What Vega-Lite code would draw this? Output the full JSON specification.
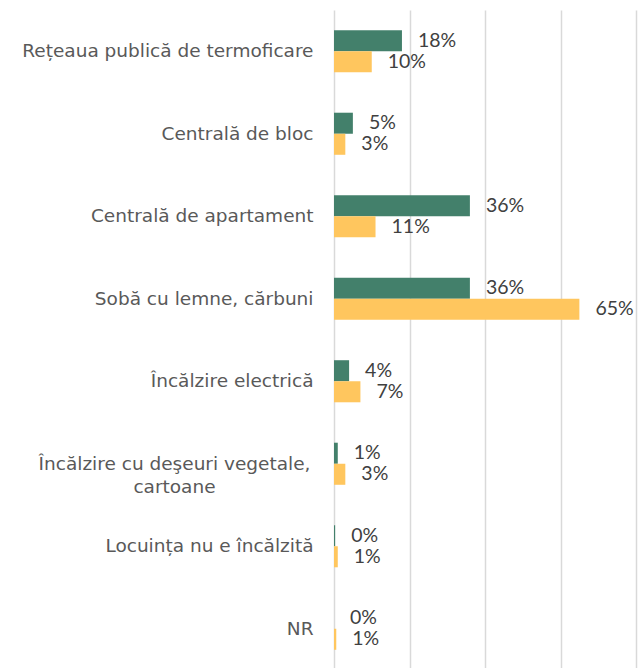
{
  "$schema": "https://vega.github.io/schema/vega-lite/v6.json",
  "width": 302,
  "height": 660,
  "autosize": {"type": "none"},
  "padding": {"left": 334, "top": 10, "right": 3, "bottom": 0},
  "background": "white",
  "config": {"view": {"stroke": null}},
  "data": {
    "values": [
      {"cat": "Rețeaua publică de termoficare", "serie": "Seria 1", "value": 18},
      {"cat": "Rețeaua publică de termoficare", "serie": "Seria 2", "value": 10},
      {"cat": "Centrală de bloc", "serie": "Seria 1", "value": 5},
      {"cat": "Centrală de bloc", "serie": "Seria 2", "value": 3},
      {"cat": "Centrală de apartament", "serie": "Seria 1", "value": 36},
      {"cat": "Centrală de apartament", "serie": "Seria 2", "value": 11},
      {"cat": "Sobă cu lemne, cărbuni", "serie": "Seria 1", "value": 36},
      {"cat": "Sobă cu lemne, cărbuni", "serie": "Seria 2", "value": 65},
      {"cat": "Încălzire electrică", "serie": "Seria 1", "value": 4},
      {"cat": "Încălzire electrică", "serie": "Seria 2", "value": 7},
      {"cat": "Încălzire cu deşeuri vegetale, cartoane", "serie": "Seria 1", "value": 1},
      {"cat": "Încălzire cu deşeuri vegetale, cartoane", "serie": "Seria 2", "value": 3},
      {"cat": "Locuința nu e încălzită", "serie": "Seria 1", "value": 0.3},
      {"cat": "Locuința nu e încălzită", "serie": "Seria 2", "value": 1},
      {"cat": "NR", "serie": "Seria 1", "value": 0},
      {"cat": "NR", "serie": "Seria 2", "value": 0.6}
    ]
  },
  "encoding": {
    "y": {
      "field": "cat", "type": "nominal", "sort": null,
      "scale": {"paddingInner": 0.49, "paddingOuter": 0.245},
      "axis": {
        "title": null, "domain": false, "ticks": false,
        "labelFont": "DejaVu Sans", "labelFontSize": 18.5, "labelColor": "#595959",
        "labelLimit": 400, "labelLineHeight": 23,
        "labelExpr": "datum.label == 'Încălzire cu deşeuri vegetale, cartoane' ? ['Încălzire cu deşeuri vegetale,', 'cartoane'] : datum.label",
        "labelAlign": {"condition": {"test": "datum.value == 'Încălzire cu deşeuri vegetale, cartoane'", "value": "center"}, "value": "right"},
        "labelPadding": {"condition": {"test": "datum.value == 'Încălzire cu deşeuri vegetale, cartoane'", "value": 160}, "value": 21}
      }
    },
    "yOffset": {"field": "serie", "type": "nominal", "scale": {"paddingInner": 0, "paddingOuter": 0}}
  },
  "layer": [
    {
      "mark": {"type": "bar"},
      "encoding": {
        "x": {
          "field": "value", "type": "quantitative",
          "scale": {"domain": [0, 80], "nice": false},
          "axis": {"title": null, "labels": false, "ticks": false, "domain": false,
                   "values": [0, 20, 40, 60, 80], "grid": true,
                   "gridColor": "#d9d9d9", "gridWidth": 1.5}
        },
        "color": {
          "field": "serie", "type": "nominal", "legend": null,
          "scale": {"domain": ["Seria 1", "Seria 2"], "range": ["#43806B", "#FFC65E"]}
        }
      }
    },
    {
      "mark": {"type": "text", "align": "left", "baseline": "middle", "dx": 16,
               "font": "Lato", "fontSize": 19.5, "color": "#404040"},
      "encoding": {
        "x": {"field": "value", "type": "quantitative"},
        "text": {"value": {"expr": "round(datum.value) + '%'"}}
      }
    }
  ]
}
